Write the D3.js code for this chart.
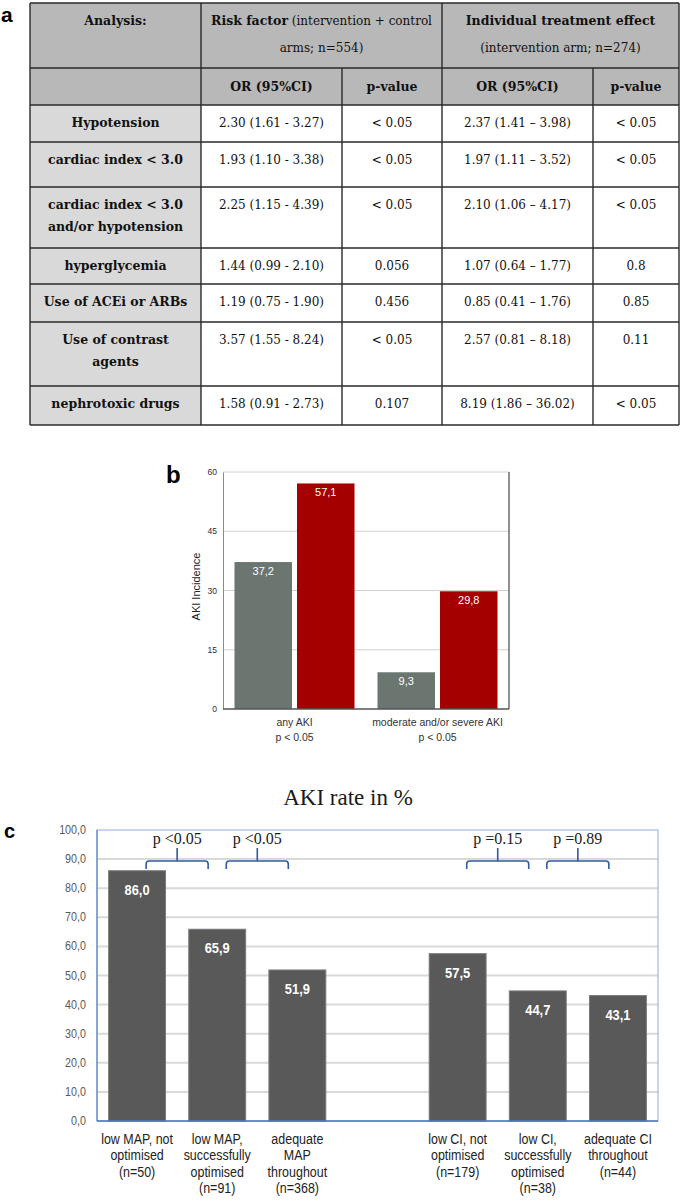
<!DOCTYPE html>
<html><head><meta charset="utf-8">
<script src="https://cdn.jsdelivr.net/npm/d3@7"></script>
<style>
body{margin:0;background:#fff;}
svg{display:block;}
</style></head><body>
<svg id="fig" width="685" height="1200"></svg>
<script>
// ---------- Panel a: table data ----------
const factorLabels = [["Hypotension"],["cardiac index < 3.0"],["cardiac index < 3.0","and/or hypotension"],["hyperglycemia"],["Use of ACEi or ARBs"],["Use of contrast","agents"],["nephrotoxic drugs"]];
const orRisk = ["2.30 (1.61 - 3.27)","1.93 (1.10 - 3.38)","2.25 (1.15 - 4.39)","1.44 (0.99 - 2.10)","1.19 (0.75 - 1.90)","3.57 (1.55 - 8.24)","1.58 (0.91 - 2.73)"];
const pRisk = ["< 0.05","< 0.05","< 0.05","0.056","0.456","< 0.05","0.107"];
const orTreat = ["2.37 (1.41 \u2013 3.98)","1.97 (1.11 \u2013 3.52)","2.10 (1.06 \u2013 4.17)","1.07 (0.64 \u2013 1.77)","0.85 (0.41 \u2013 1.76)","2.57 (0.81 \u2013 8.18)","8.19 (1.86 \u2013 36.02)"];
const pTreat = ["< 0.05","< 0.05","< 0.05","0.8","0.85","0.11","< 0.05"];
const subHeaders = ["", "OR (95%CI)", "p-value", "OR (95%CI)", "p-value"];

// ---------- Panel b data ----------
const bGroups = ["any AKI", "moderate and/or severe AKI"];
const bGroupP = ["p < 0.05", "p < 0.05"];
const bSeries = ["control", "intervention"];
const bControl = [37.2, 9.3];
const bIntervention = [57.1, 29.8];
const bTicks = [0, 15, 30, 45, 60];

// ---------- Panel c data ----------
const cCategories = [
  ["low MAP, not","optimised","(n=50)"],
  ["low MAP,","successfully","optimised","(n=91)"],
  ["adequate","MAP","throughout","(n=368)"],
  [],
  ["low CI, not","optimised","(n=179)"],
  ["low CI,","successfully","optimised","(n=38)"],
  ["adequate CI","throughout","(n=44)"]
];
const cValues = [86.0, 65.9, 51.9, null, 57.5, 44.7, 43.1];
const cTicks = [0,10,20,30,40,50,60,70,80,90,100];
const cBrackets = [
  {from:0, to:1, label:"p <0.05"},
  {from:1, to:2, label:"p <0.05"},
  {from:4, to:5, label:"p =0.15"},
  {from:5, to:6, label:"p =0.89"}
];

const svg = d3.select("#fig");
const serif = "'DejaVu Serif', Georgia, serif";
const sans = "'Liberation Sans', Arial, sans-serif";
const comma = v => d3.format(".1f")(v).replace(".", ",");

// ================= Panel a =================
(function(){
  const colX = [30, 201, 342, 442, 593, 679];
  const rowH = [65, 37, 37, 45, 61, 36, 38, 64, 39];
  const rowY = [3];
  rowH.forEach(h => rowY.push(rowY[rowY.length-1] + h));
  const g = svg.append("g");
  const headFill = "#b8b8b8", sideFill = "#d9d9d9", line = "#2a2a2a";
  const cx = i => (colX[i] + colX[i+1]) / 2;

  svg.append("text").attr("x", 1).attr("y", 22).attr("font-family", sans)
    .attr("font-weight", "bold").attr("font-size", 21).text("a");

  g.append("rect").attr("x", colX[0]).attr("y", rowY[0]).attr("width", colX[5]-colX[0])
    .attr("height", rowY[2]-rowY[0]).attr("fill", headFill);
  g.append("rect").attr("x", colX[0]).attr("y", rowY[2]).attr("width", colX[1]-colX[0])
    .attr("height", rowY[9]-rowY[2]).attr("fill", sideFill);

  rowY.forEach(y => g.append("line").attr("x1", colX[0]).attr("x2", colX[5])
    .attr("y1", y).attr("y2", y).attr("stroke", line).attr("stroke-width", 1.4));
  colX.forEach((x, i) => {
    const merged = (i === 2 || i === 4);
    g.append("line").attr("x1", x).attr("x2", x)
      .attr("y1", merged ? rowY[1] : rowY[0]).attr("y2", rowY[9])
      .attr("stroke", line).attr("stroke-width", 1.4);
  });

  const txt = (x, y, s, bold, size) => g.append("text").attr("x", x).attr("y", y)
    .attr("text-anchor", "middle").attr("font-family", serif).attr("font-size", size || 12)
    .attr("font-weight", bold ? "bold" : "normal").attr("fill", "#111").text(s);

  txt(cx(0), rowY[0]+22, "Analysis:", true, 12.5);
  const h1 = g.append("text").attr("x", (colX[1]+colX[3])/2).attr("y", rowY[0]+22)
    .attr("text-anchor", "middle").attr("font-family", serif).attr("font-size", 12).attr("fill", "#111");
  h1.append("tspan").attr("font-weight", "bold").attr("font-size", 12.5).text("Risk factor");
  h1.append("tspan").text(" (intervention + control");
  txt((colX[1]+colX[3])/2, rowY[0]+49, "arms; n=554)", false, 12);
  txt((colX[3]+colX[5])/2, rowY[0]+22, "Individual treatment effect", true, 12.5);
  txt((colX[3]+colX[5])/2, rowY[0]+49, "(intervention arm; n=274)", false, 12);

  subHeaders.forEach((s, i) => { if (s) txt(cx(i), rowY[1]+23, s, true, 12.5); });

  factorLabels.forEach((lines, r) => {
    const y0 = rowY[r+2] + 22;
    lines.forEach((l, k) => txt(cx(0), y0 + k*22, l, true, 12.5));
    txt(cx(1), y0, orRisk[r]);
    txt(cx(2), y0, pRisk[r]);
    txt(cx(3), y0, orTreat[r]);
    txt(cx(4), y0, pTreat[r]);
  });
})();

// ================= Panel b =================
(function(){
  const left = 223, right = 509, top = 472, bottom = 709;
  const x0 = d3.scaleBand().domain(bGroups).range([left, right]).padding(0);
  const x1 = d3.scaleBand().domain(bSeries).range([0, x0.bandwidth()])
    .paddingInner(0.08).paddingOuter(0.184);
  const y = d3.scaleLinear().domain([0, 60]).range([bottom, top]);
  const colors = {control: "#6b7671", intervention: "#a50000"};
  const g = svg.append("g");

  svg.append("text").attr("x", 166).attr("y", 483).attr("font-family", sans)
    .attr("font-weight", "bold").attr("font-size", 24).text("b");

  g.selectAll(".gb").data(bTicks.filter(t => t > 0)).join("line")
    .attr("x1", left).attr("x2", right).attr("y1", d => y(d)).attr("y2", d => y(d))
    .attr("stroke", "#d2d2d2").attr("stroke-width", 1);

  const yAxis = d3.axisLeft(y).tickValues(bTicks).tickSize(0).tickPadding(6);
  const ya = g.append("g").attr("transform", `translate(${left},0)`).call(yAxis);
  ya.select(".domain").attr("stroke", "#8a8a8a");
  ya.selectAll("text").attr("font-family", sans).attr("font-size", 8.5).attr("fill", "#2b2b3b");

  g.append("line").attr("x1", right).attr("x2", right).attr("y1", top).attr("y2", bottom)
    .attr("stroke", "#222").attr("stroke-width", 1);

  const data = [];
  bGroups.forEach((grp, i) => {
    data.push({grp, s: "control", v: bControl[i]});
    data.push({grp, s: "intervention", v: bIntervention[i]});
  });
  g.selectAll(".bb").data(data).join("rect")
    .attr("x", d => x0(d.grp) + x1(d.s)).attr("width", x1.bandwidth())
    .attr("y", d => y(d.v)).attr("height", d => y(0) - y(d.v))
    .attr("fill", d => colors[d.s]);
  g.selectAll(".bl").data(data).join("text")
    .attr("x", d => x0(d.grp) + x1(d.s) + x1.bandwidth()/2)
    .attr("y", d => y(d.v) + 13).attr("text-anchor", "middle")
    .attr("font-family", sans).attr("font-size", 11).attr("fill", "#fff")
    .text(d => comma(d.v));

  g.append("line").attr("x1", left).attr("x2", right).attr("y1", bottom).attr("y2", bottom)
    .attr("stroke", "#555").attr("stroke-width", 1.5);

  bGroups.forEach((grp, i) => {
    const cxp = x0(grp) + x0.bandwidth()/2;
    g.append("text").attr("x", cxp).attr("y", bottom + 17).attr("text-anchor", "middle")
      .attr("font-family", sans).attr("font-size", 10.5).attr("fill", "#333").text(grp);
    g.append("text").attr("x", cxp).attr("y", bottom + 32).attr("text-anchor", "middle")
      .attr("font-family", sans).attr("font-size", 10.5).attr("fill", "#333").text(bGroupP[i]);
  });

  g.append("text").attr("transform", `translate(200,${(top+bottom)/2 - 4}) rotate(-90)`)
    .attr("text-anchor", "middle").attr("font-family", sans).attr("font-size", 11)
    .attr("fill", "#222").text("AKI Incidence");
})();

// ================= Panel c =================
(function(){
  const left = 97, right = 658, top = 830, bottom = 1121;
  const x = d3.scaleBand().domain(d3.range(cCategories.length)).range([left, right])
    .paddingInner(0.29).paddingOuter(0.145);
  const y = d3.scaleLinear().domain([0, 100]).range([bottom, top]);
  const g = svg.append("g");
  const blue = "#4a74c2";
  const sx = 0.86; // condensed look

  svg.append("text").attr("x", 348).attr("y", 805).attr("text-anchor", "middle")
    .attr("font-family", "'Liberation Serif', 'Times New Roman', serif").attr("font-size", 23)
    .attr("fill", "#1a1a1a").text("AKI rate in %");
  svg.append("text").attr("x", 4).attr("y", 838).attr("font-family", sans)
    .attr("font-weight", "bold").attr("font-size", 20).text("c");

  g.selectAll(".gc").data(cTicks.filter(t => t > 0 && t < 100)).join("line")
    .attr("x1", left).attr("x2", right).attr("y1", d => y(d)).attr("y2", d => y(d))
    .attr("stroke", "#d9d9d9").attr("stroke-width", 2);

  g.append("rect").attr("x", left).attr("y", top).attr("width", right-left).attr("height", bottom-top)
    .attr("fill", "none").attr("stroke", "#8faadc").attr("stroke-width", 1);

  // y tick labels
  g.selectAll(".ty").data(cTicks).join("text")
    .attr("transform", d => `translate(${left - 11},${y(d) + 4}) scale(${sx},1)`)
    .attr("text-anchor", "end").attr("font-family", sans).attr("font-size", 12.5)
    .attr("fill", "#595959").text(comma);
  g.append("line").attr("x1", left).attr("x2", left).attr("y1", top).attr("y2", bottom)
    .attr("stroke", blue).attr("stroke-width", 1);

  const bars = cValues.map((v, i) => ({i, v})).filter(d => d.v != null);
  g.selectAll(".bc").data(bars).join("rect")
    .attr("x", d => x(d.i)).attr("width", x.bandwidth())
    .attr("y", d => y(d.v)).attr("height", d => y(0) - y(d.v))
    .attr("fill", "#595959").attr("stroke", "#7a7a7a").attr("stroke-width", 1);
  g.selectAll(".lc").data(bars).join("text")
    .attr("transform", d => `translate(${x(d.i) + x.bandwidth()/2},${y(d.v) + 24}) scale(${sx},1)`)
    .attr("text-anchor", "middle").attr("font-family", sans).attr("font-weight", "bold")
    .attr("font-size", 15).attr("fill", "#fff").text(d => comma(d.v));

  g.append("line").attr("x1", left).attr("x2", right).attr("y1", bottom).attr("y2", bottom)
    .attr("stroke", blue).attr("stroke-width", 1.5);

  cCategories.forEach((lines, i) => {
    const cxp = x(i) + x.bandwidth()/2;
    lines.forEach((l, k) => g.append("text")
      .attr("transform", `translate(${cxp},${bottom + 23 + k*16.3}) scale(${sx},1)`)
      .attr("text-anchor", "middle").attr("font-family", sans)
      .attr("font-size", 14.5).attr("fill", "#222").text(l));
  });

  const by = y(100) + 31;
  cBrackets.forEach(b => {
    const mid = (x(b.from) + x(b.to) + x.bandwidth()) / 2;
    const hw = 31, x1 = mid - hw, x2 = mid + hw;
    g.append("path")
      .attr("d", `M${x1},${by+8} L${x1},${by+3} Q${x1},${by} ${x1+3},${by} L${x2-3},${by} Q${x2},${by} ${x2},${by+3} L${x2},${by+8} M${mid},${by} L${mid},${by-13}`)
      .attr("fill", "none").attr("stroke", "#2f5aa5").attr("stroke-width", 1.6);
    g.append("text").attr("x", mid).attr("y", by - 17).attr("text-anchor", "middle")
      .attr("font-family", "'Liberation Serif', serif").attr("font-size", 16)
      .attr("fill", "#1a1a1a").text(b.label);
  });
})();
</script>
</body></html>
